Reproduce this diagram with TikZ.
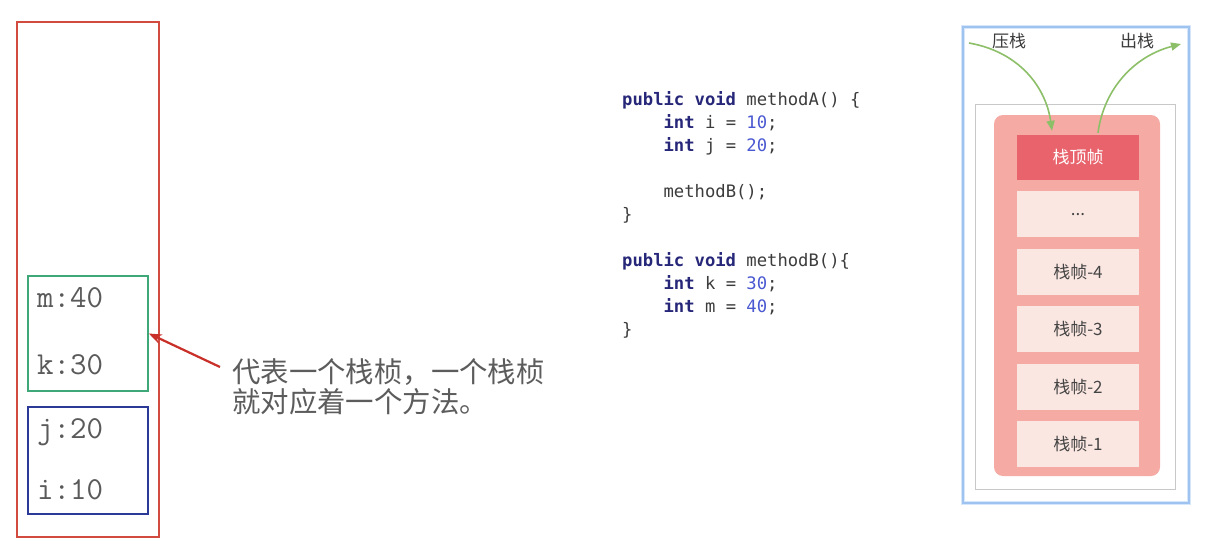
\documentclass[tikz,border=0pt]{standalone}
\usepackage{fontspec}
\newfontfamily\cjk{Noto Sans CJK SC}
\newfontfamily\codefont{DejaVu Sans Mono}
\usetikzlibrary{positioning,arrows.meta}

\definecolor{stackred}{HTML}{D24B3E}
\definecolor{frameBgreen}{HTML}{3FA878}
\definecolor{frameAblue}{HTML}{2B3A96}
\definecolor{vargray}{HTML}{5A5A5A}
\definecolor{notegray}{HTML}{5C5C5C}
\definecolor{framegray}{HTML}{444444}
\definecolor{pointerred}{HTML}{C9302A}
\definecolor{kwnavy}{HTML}{27277A}
\definecolor{numblue}{HTML}{4A58D2}
\definecolor{codegray}{HTML}{3C3C3C}
\definecolor{panelblue}{HTML}{9EC3F0}
\definecolor{panelglow}{HTML}{D6E7FB}
\definecolor{areagray}{HTML}{C8C8C8}
\definecolor{bodypink}{HTML}{F6AAA4}
\definecolor{toppink}{HTML}{E8636C}
\definecolor{framepink}{HTML}{FBE7E1}
\definecolor{pushgreen}{HTML}{8CBF68}

\newcommand{\kw}[1]{{\bfseries\color{kwnavy}#1}}
\newcommand{\cnum}[1]{{\color{numblue}#1}}

\begin{document}
\begin{tikzpicture}[
  x=1pt,y=-1pt,
  >=Stealth,
  stackbox/.style={draw=stackred,line width=1.8pt,minimum width=142pt,minimum height=515pt},
  methodbox/.style={draw=#1,line width=1.6pt,minimum width=120pt,inner sep=0pt},
  varlabel/.style={anchor=base west,inner sep=0pt,text=vargray,
    font=\ttfamily\fontsize{32}{32}\selectfont},
  note/.style={anchor=north west,inner sep=0pt,align=left,text=notegray,
    font=\cjk\fontsize{28.4}{30}\selectfont},
  pointer/.style={->,draw=pointerred,line width=2.2pt},
  code/.style={anchor=north west,inner sep=0pt,align=left,text=codegray,
    font=\codefont\fontsize{17.2}{23}\selectfont},
  stackframe/.style={fill=framepink,minimum width=122pt,minimum height=46pt,
    text=framegray,font=\cjk\fontsize{17}{17}\selectfont},
  stacklabel/.style={text=codegray,font=\cjk\fontsize{17}{17}\selectfont},
  pushpop/.style={-{Triangle[length=10pt,width=8pt]},draw=pushgreen,line width=1.6pt}
]
  \useasboundingbox[fill=white] (0,0) rectangle (1219,544);

  % java stack with two frames
  \node[stackbox] (jvmstack) at (88,279.5) {};
  \node[methodbox=frameBgreen,minimum height=115pt] (frameB) at (88,333.5) {};
  \node[methodbox=frameAblue,minimum height=107pt] (frameA) at (88,460.5) {};
  \node[varlabel] (varm) at (37,307) {m:40};
  \node[varlabel] (vark) at (37,374) {k:30};
  \node[varlabel] (varj) at (37,438) {j:20};
  \node[varlabel] (vari) at (37,499) {i:10};

  \node[note] (note) at (232,358) {代表一个栈桢，一个栈桢\\就对应着一个方法。};
  \draw[pointer] ([xshift=-12pt,yshift=-9pt]note.north west) -- (frameB.east);

  % source code
  \node[code] (listing) at (622,91) {%
    \kw{public void} methodA() \{\\
    \phantom{xxxx}\kw{int} i = \cnum{10};\\
    \phantom{xxxx}\kw{int} j = \cnum{20};\\
    \mbox{}\\
    \phantom{xxxx}methodB();\\
    \}\\
    \mbox{}\\
    \kw{public void} methodB()\{\\
    \phantom{xxxx}\kw{int} k = \cnum{30};\\
    \phantom{xxxx}\kw{int} m = \cnum{40};\\
    \}};

  % stack picture on the right
  \node[draw=panelglow,line width=4pt,minimum width=226pt,minimum height=476pt] (panel) at (1076,265) {};
  \node[draw=panelblue,line width=1.4pt,minimum width=226pt,minimum height=476pt] at (panel) {};
  \node[draw=areagray,line width=0.6pt,minimum width=200pt,minimum height=385pt] (area) at (1075,296.5) {};
  \node[fill=bodypink,rounded corners=9pt,minimum width=166pt,minimum height=361pt] (body) at (1077,295.5) {};

  \node[stackframe,fill=toppink,text=white,minimum height=45pt] (top) at (1078,157.5) {栈顶帧};
  \node[stackframe,below=11pt of top] (dots) {...};
  \node[stackframe,below=11pt of dots] (f4) {栈帧-4};
  \node[stackframe,below=11pt of f4] (f3) {栈帧-3};
  \node[stackframe,below=11pt of f3] (f2) {栈帧-2};
  \node[stackframe,below=11pt of f2] (f1) {栈帧-1};

  \node[stacklabel] (push) at (1009,41) {压栈};
  \node[stacklabel] (pop) at (1137,41) {出栈};
  \coordinate (pushin) at (969,43);
  \coordinate (popout) at (1181,44);
  \draw[pushpop] (pushin) .. controls (1020,52) and (1046,88) .. ([xshift=-26pt,yshift=4pt]top.north);
  \draw[pushpop] ([xshift=20pt,yshift=2pt]top.north) .. controls (1104,88) and (1135,56) .. (popout);
\end{tikzpicture}
\end{document}
